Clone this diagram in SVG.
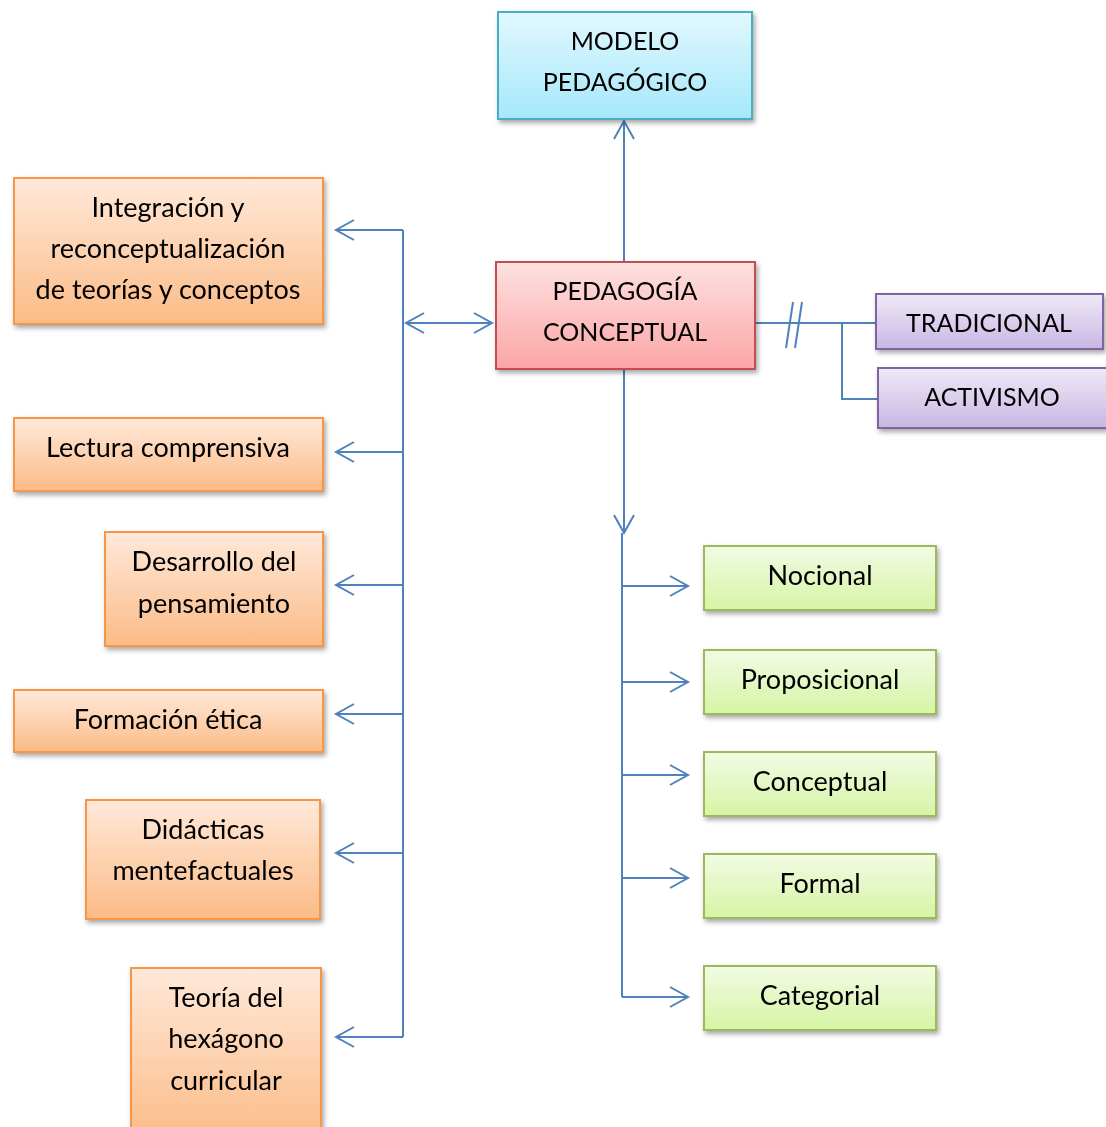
<svg xmlns="http://www.w3.org/2000/svg" width="1106" height="1127" viewBox="0 0 1106 1127">
<style>
text{font-family:Lato,"Open Sans","Liberation Sans",sans-serif;font-size:27px;fill:#000;text-anchor:middle;dominant-baseline:central}
text.u{font-size:25px}
.c{fill:none;stroke:#4f81bd;stroke-width:2}
.blue{fill:url(#gB);stroke:#4bacc6;stroke-width:2}
.red{fill:url(#gR);stroke:#c0504d;stroke-width:2}
.pur{fill:url(#gP);stroke:#8064a2;stroke-width:2}
.org{fill:url(#gO);stroke:#f79646;stroke-width:2}
.grn{fill:url(#gG);stroke:#9bbb59;stroke-width:2}
.s{filter:url(#sh)}
</style>
<defs>
<linearGradient id="gB" x1="0" y1="0" x2="0" y2="1"><stop offset="0" stop-color="#e2f8fe"/><stop offset="1" stop-color="#a5e8fb"/></linearGradient>
<linearGradient id="gR" x1="0" y1="0" x2="0" y2="1"><stop offset="0" stop-color="#fee1e1"/><stop offset="1" stop-color="#fba5a5"/></linearGradient>
<linearGradient id="gP" x1="0" y1="0" x2="0" y2="1"><stop offset="0" stop-color="#efe9f7"/><stop offset="1" stop-color="#c8b7e3"/></linearGradient>
<linearGradient id="gO" x1="0" y1="0" x2="0" y2="1"><stop offset="0" stop-color="#ffe9da"/><stop offset="1" stop-color="#fbbb86"/></linearGradient>
<linearGradient id="gG" x1="0" y1="0" x2="0" y2="1"><stop offset="0" stop-color="#f2fbe4"/><stop offset="1" stop-color="#d6f4a5"/></linearGradient>
<filter id="sh" x="-10%" y="-10%" width="130%" height="140%"><feDropShadow dx="2" dy="3" stdDeviation="2.5" flood-color="#000" flood-opacity="0.35"/></filter>
<marker id="a" markerUnits="userSpaceOnUse" markerWidth="24" markerHeight="24" viewBox="-20 -12 24 24" refX="0" refY="0" orient="auto-start-reverse">
<path d="M-18,-10 L0,0 L-18,10" fill="none" stroke="#4f81bd" stroke-width="2"/>
</marker>
</defs>
<g id="connectors">
<line class="c" x1="624" y1="262" x2="624" y2="121" marker-end="url(#a)"/>
<line class="c" x1="403" y1="230" x2="403" y2="1037"/>
<line class="c" x1="403" y1="230" x2="336" y2="230" marker-end="url(#a)"/>
<line class="c" x1="403" y1="452" x2="336" y2="452" marker-end="url(#a)"/>
<line class="c" x1="403" y1="585" x2="336" y2="585" marker-end="url(#a)"/>
<line class="c" x1="403" y1="714" x2="336" y2="714" marker-end="url(#a)"/>
<line class="c" x1="403" y1="853" x2="336" y2="853" marker-end="url(#a)"/>
<line class="c" x1="403" y1="1037" x2="336" y2="1037" marker-end="url(#a)"/>
<line class="c" x1="406" y1="323" x2="492" y2="323" marker-start="url(#a)" marker-end="url(#a)"/>
<line class="c" x1="755" y1="323" x2="876" y2="323"/>
<line class="c" x1="793" y1="302" x2="786" y2="348"/>
<line class="c" x1="802" y1="302" x2="795" y2="348"/>
<polyline class="c" points="842,323 842,399 878,399"/>
<line class="c" x1="624" y1="369" x2="624" y2="533" marker-end="url(#a)"/>
<line class="c" x1="622" y1="533" x2="622" y2="997"/>
<line class="c" x1="622" y1="586" x2="688" y2="586" marker-end="url(#a)"/>
<line class="c" x1="622" y1="682" x2="688" y2="682" marker-end="url(#a)"/>
<line class="c" x1="622" y1="775" x2="688" y2="775" marker-end="url(#a)"/>
<line class="c" x1="622" y1="878" x2="688" y2="878" marker-end="url(#a)"/>
<line class="c" x1="622" y1="997" x2="688" y2="997" marker-end="url(#a)"/>
</g>
<g id="modelo" class="s"><rect class="blue" x="498" y="12" width="254" height="107"/><text class="u" x="625" y="40">MODELO</text><text class="u" x="625" y="81">PEDAGÓGICO</text></g>
<g id="pedagogia" class="s"><rect class="red" x="496" y="262" width="259" height="107"/><text class="u" x="625" y="290">PEDAGOGÍA</text><text class="u" x="625" y="331">CONCEPTUAL</text></g>
<g id="tradicional" class="s"><rect class="pur" x="876" y="294" width="227" height="55"/><text class="u" x="989" y="322">TRADICIONAL</text></g>
<g id="activismo" class="s"><rect class="pur" x="878" y="368" width="230" height="60"/><text class="u" x="992" y="396">ACTIVISMO</text></g>
<g id="integracion" class="s"><rect class="org" x="14" y="178" width="309" height="146"/><text x="168" y="206">Integración y</text><text x="168" y="247">reconceptualización</text><text x="168" y="288">de teorías y conceptos</text></g>
<g id="lectura" class="s"><rect class="org" x="14" y="418" width="309" height="73"/><text x="168" y="446">Lectura comprensiva</text></g>
<g id="desarrollo" class="s"><rect class="org" x="105" y="532" width="218" height="114"/><text x="214" y="560">Desarrollo del</text><text x="214" y="602">pensamiento</text></g>
<g id="formacion" class="s"><rect class="org" x="14" y="690" width="309" height="62"/><text x="168" y="718">Formación ética</text></g>
<g id="didacticas" class="s"><rect class="org" x="86" y="800" width="234" height="119"/><text x="203" y="828">Didácticas</text><text x="203" y="869">mentefactuales</text></g>
<g id="teoria" class="s"><rect class="org" x="131" y="968" width="190" height="175"/><text x="226" y="996">Teoría del</text><text x="226" y="1037">hexágono</text><text x="226" y="1079">curricular</text></g>
<g id="nocional" class="s"><rect class="grn" x="704" y="546" width="232" height="64"/><text x="820" y="574">Nocional</text></g>
<g id="proposicional" class="s"><rect class="grn" x="704" y="650" width="232" height="64"/><text x="820" y="678">Proposicional</text></g>
<g id="conceptual" class="s"><rect class="grn" x="704" y="752" width="232" height="64"/><text x="820" y="780">Conceptual</text></g>
<g id="formal" class="s"><rect class="grn" x="704" y="854" width="232" height="64"/><text x="820" y="882">Formal</text></g>
<g id="categorial" class="s"><rect class="grn" x="704" y="966" width="232" height="64"/><text x="820" y="994">Categorial</text></g>
</svg>
